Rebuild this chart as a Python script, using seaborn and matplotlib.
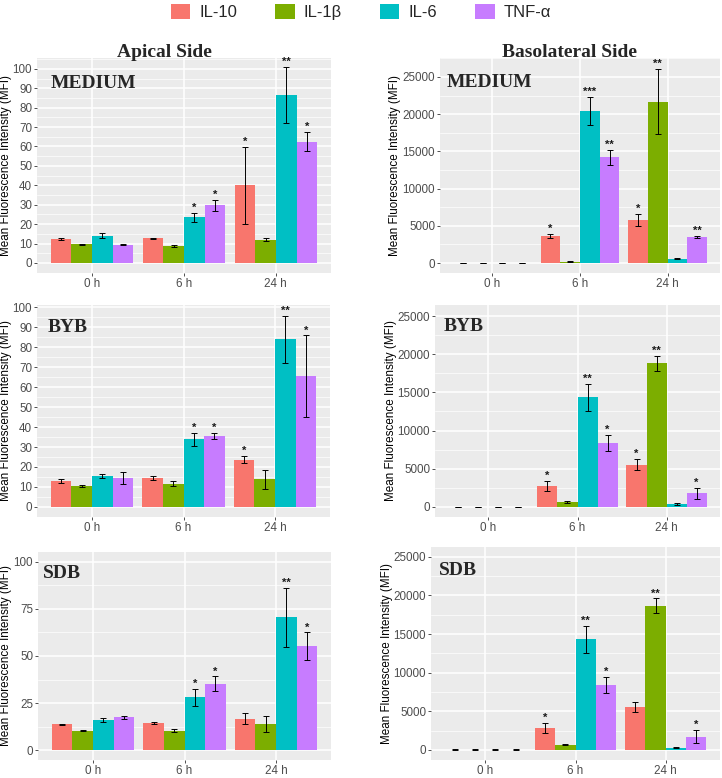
import pandas as pd
import matplotlib.pyplot as plt
import numpy as np
import seaborn as sns
from matplotlib.patches import Patch
from matplotlib.ticker import MultipleLocator

# categories
times = ["0 h", "6 h", "24 h"]
cytokines = ["IL-10", "IL-1β", "IL-6", "TNF-α"]
colors = ["#F8766D", "#7CAE00", "#00BFC4", "#C77CFF"]

# values per cytokine (rows) and time point (columns)
apical_medium_mean = [[12.4, 12.7, 39.9], [9.5, 8.8, 11.9], [13.9, 23.5, 86.6], [9.3, 29.6, 62.5]]
apical_medium_sd = [[0.6, 0.3, 19.7], [0.5, 0.6, 0.7], [1.3, 2.2, 14.3], [0.2, 2.7, 5.0]]
apical_medium_stars = [["", "", "*"], ["", "", ""], ["", "*", "**"], ["", "*", "*"]]

basal_medium_mean = [[40, 3600, 5800], [40, 180, 21700], [40, 20400, 580], [40, 14200, 3530]]
basal_medium_sd = [[20, 300, 850], [20, 40, 4370], [20, 1900, 80], [20, 1050, 150]]
basal_medium_stars = [["", "*", "*"], ["", "", "**"], ["", "***", ""], ["", "**", "**"]]

apical_byb_mean = [[13.0, 14.5, 23.7], [10.5, 11.7, 13.8], [15.5, 33.8, 83.8], [14.7, 35.5, 65.3]]
apical_byb_sd = [[1.0, 0.8, 1.7], [0.5, 1.2, 4.8], [0.8, 3.3, 11.8], [3.0, 1.5, 20.5]]
apical_byb_stars = [["", "", "*"], ["", "", ""], ["", "*", "**"], ["", "*", "*"]]

basal_byb_mean = [[40, 2750, 5550], [40, 610, 18790], [40, 14340, 390], [40, 8390, 1790]]
basal_byb_sd = [[20, 650, 700], [20, 130, 960], [20, 1800, 80], [20, 1000, 750]]
basal_byb_stars = [["", "*", "*"], ["", "", "**"], ["", "**", ""], ["", "*", "*"]]

apical_sdb_mean = [[13.7, 14.6, 16.7], [10.4, 10.4, 13.9], [16.1, 28.1, 70.5], [17.4, 35.2, 55.2]]
apical_sdb_sd = [[0.2, 0.6, 3.0], [0.1, 1.0, 4.3], [1.0, 4.5, 15.8], [1.0, 4.0, 7.3]]
apical_sdb_stars = [["", "", ""], ["", "", ""], ["", "*", "**"], ["", "*", "*"]]

basal_sdb_mean = [[40, 2830, 5540], [40, 680, 18650], [40, 14300, 300], [40, 8420, 1730]]
basal_sdb_sd = [[20, 630, 680], [20, 100, 970], [20, 1780, 50], [20, 1070, 850]]
basal_sdb_stars = [["", "*", ""], ["", "", "**"], ["", "**", ""], ["", "*", "*"]]

sns.set_theme(style="darkgrid", rc={"axes.facecolor": "#EBEBEB", "grid.color": "white"})
plt.rcParams['font.family'] = ['Liberation Sans', 'DejaVu Sans']

W, H = 722, 778
fig = plt.figure(figsize=(W / 100, H / 100), dpi=100)
fig.patch.set_facecolor("white")


def add_px_axes(left, top, right, bottom):
    return fig.add_axes([left / W, 1 - bottom / H, (right - left) / W, (bottom - top) / H])


def draw_panel(ax, means, sds, stars, ylim, major, minor, label, label_xy, ylabel_x):
    rows = []
    for i, c in enumerate(cytokines):
        for j, t in enumerate(times):
            rows.append({"time": t, "cytokine": c, "value": means[i][j]})
    df = pd.DataFrame(rows)
    sns.barplot(data=df, x="time", y="value", hue="cytokine", order=times,
                hue_order=cytokines, palette=colors, width=0.9, saturation=1,
                errorbar=None, linewidth=0, legend=False, ax=ax, zorder=2)
    bar_conts = list(ax.containers)
    for i, cont in enumerate(bar_conts):
        xs = [b.get_x() + b.get_width() / 2 for b in cont]
        ys = [b.get_height() for b in cont]
        ax.errorbar(xs, ys, yerr=sds[i], fmt="none", ecolor="black",
                    elinewidth=0.7, capsize=2.2, capthick=0.7, zorder=3)
        for x, y, e, s in zip(xs, ys, sds[i], stars[i]):
            if s:
                ax.annotate(s, (x, y + e), xytext=(0, 0), textcoords="offset points",
                            ha="center", va="bottom", fontsize=8, color="#1A1A1A",
                            fontweight="bold")
    ax.set_xlim(-0.6, 2.6)
    ax.set_ylim(*ylim)
    ax.yaxis.set_major_locator(MultipleLocator(major))
    ax.yaxis.set_minor_locator(MultipleLocator(minor))
    ax.grid(which="major", color="white", linewidth=1.1, zorder=0)
    ax.grid(which="minor", axis="y", color="white", linewidth=0.5, zorder=0)
    ax.set_axisbelow(True)
    for sp in ax.spines.values():
        sp.set_visible(False)
    ax.tick_params(axis="both", which="major", length=2.3, width=0.6, color="#333333",
                   labelsize=8.4, labelcolor="#4D4D4D", pad=1.2, left=True, bottom=True)
    ax.tick_params(axis="y", which="minor", length=0)
    ax.set_xlabel("")
    ax.set_ylabel("Mean Fluorescence Intensity (MFI)", fontsize=8.4, color="black")
    ax.yaxis.set_label_coords(ylabel_x, 0.5)
    fig.text(label_xy[0] / W, 1 - label_xy[1] / H, label, ha="left", va="baseline",
             fontsize=14, fontweight="bold", family="Liberation Serif")


ax1 = add_px_axes(37, 58, 331, 273)
draw_panel(ax1, apical_medium_mean, apical_medium_sd, apical_medium_stars,
           (-5.2, 105.6), 10, 5, "MEDIUM", (51, 88), -25 / 294)
ax2 = add_px_axes(440, 58, 720, 273)
draw_panel(ax2, basal_medium_mean, basal_medium_sd, basal_medium_stars,
           (-1340, 27550), 5000, 2500, "MEDIUM", (447, 87), -39 / 280)
ax3 = add_px_axes(37, 305, 330, 517)
draw_panel(ax3, apical_byb_mean, apical_byb_sd, apical_byb_stars,
           (-5.0, 101.0), 10, 5, "BYB", (48, 332), -25 / 293)
ax4 = add_px_axes(435, 305, 720, 517)
draw_panel(ax4, basal_byb_mean, basal_byb_sd, basal_byb_stars,
           (-1310, 26440), 5000, 2500, "BYB", (444, 331), -38 / 285)
ax5 = add_px_axes(38, 552, 331, 760)
draw_panel(ax5, apical_sdb_mean, apical_sdb_sd, apical_sdb_stars,
           (-5.2, 105.2), 25, 12.5, "SDB", (43, 578), -26 / 293)
ax6 = add_px_axes(431, 547, 720, 760)
draw_panel(ax6, basal_sdb_mean, basal_sdb_sd, basal_sdb_stars,
           (-1300, 26270), 5000, 2500, "SDB", (439, 575), -38 / 289)

# column titles
fig.text(164 / W, 1 - 57 / H, "Apical Side", ha="center", va="baseline",
         fontsize=14, fontweight="bold", family="Liberation Serif")
fig.text(570 / W, 1 - 57 / H, "Basolateral Side", ha="center", va="baseline",
         fontsize=14, fontweight="bold", family="Liberation Serif")

# legend
handles = [Patch(facecolor=c, edgecolor="none", label=n) for c, n in zip(colors, cytokines)]
fig.legend(handles=handles, loc="center", bbox_to_anchor=(0.5, 1 - 12 / H), ncol=4,
           frameon=False, fontsize=12, handlelength=1.15, handleheight=1.0,
           handletextpad=0.55, columnspacing=2.3)

fig.savefig("out.png", dpi=100)
